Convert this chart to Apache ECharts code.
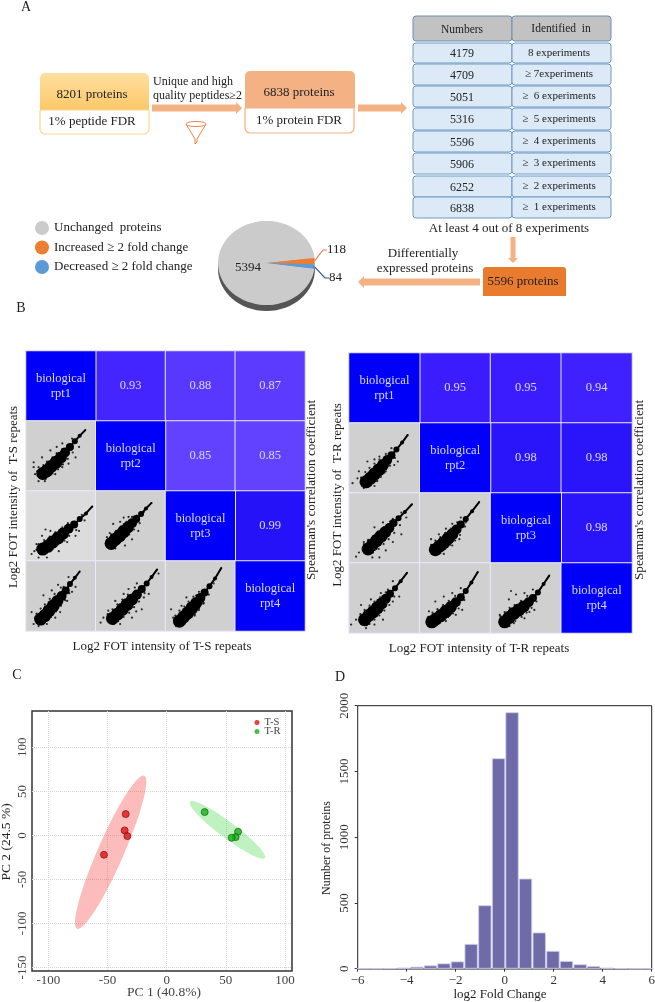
<!DOCTYPE html>
<html>
<head>
<meta charset="utf-8">
<title>Proteomics overview</title>
<script src="https://cdn.jsdelivr.net/npm/echarts@6/dist/echarts.min.js"></script>
<style>
  html, body { margin: 0; padding: 0; background: #fff; }
  #chart { width: 655px; height: 1002px; }
</style>
</head>
<body>
<div id="chart"></div>
<script>
// Panel A
const tableNumbers = ["4179", "4709", "5051", "5316", "5596", "5906", "6252", "6838"];
const tableLabels = ["8 experiments", "≥ 7experiments", "≥  6 experiments", "≥  5 experiments",
  "≥  4 experiments", "≥  3 experiments", "≥  2 experiments", "≥  1 experiments"];
const pieNames = ["Increased ≥ 2 fold change", "Decreased ≥ 2 fold change", "Unchanged  proteins"];
const pieValues = [118, 84, 5394];

// Panel B: upper triangle, row by row
const tsCorr = [0.93, 0.88, 0.87, 0.85, 0.85, 0.99];
const trCorr = [0.95, 0.95, 0.94, 0.98, 0.98, 0.98];
const repeatNames = ["biological\nrpt1", "biological\nrpt2", "biological\nrpt3", "biological\nrpt4"];

// scatter clouds, in percent of the panel, dense spine low-left to tip plus loose points
const ts10Core = [[24,25],[30,29],[36,35],[43,41],[50,48],[56,55],[63,63],[70,71],[77,79],[85,87]];
const ts10Spray = [[11,41],[13,24],[18,14],[27,14],[44,63],[52,68],[59,65],[76,63],[71,48],[61,39],[35,58],[23,48],[42,24],[52,34],[11,34],[66,75],
  [18,34],[25,37],[30,42],[38,48],[44,54],[52,60],[32,21],[38,25],[46,31],[53,38],[60,46],[67,55],[20,19],[16,28],[28,17]];
const ts20Core = [[24,17],[31,21],[38,27],[46,33],[53,39],[61,46],[69,52],[77,60],[86,68],[95,78]];
const ts20Spray = [[8,10],[15,24],[23,36],[35,43],[52,48],[66,53],[76,43],[59,27],[47,14],[30,5],[18,5],[71,36],[42,39],[28,45],[12,14],[84,58],
  [18,24],[26,30],[34,35],[42,41],[50,46],[60,54],[30,12],[38,17],[46,24],[55,29],[62,36],[72,44],[15,16],[20,10],[80,66]];
const ts21Core = [[22,25],[28,31],[34,36],[40,42],[46,48],[52,54],[58,60],[65,67],[72,75],[80,83]];
const ts21Spray = [[16,34],[18,22],[28,18],[25,53],[35,56],[47,63],[59,65],[61,43],[52,31],[42,22],[32,43],[69,70],[40,62],[20,40],
  [16,30],[22,38],[29,43],[36,49],[44,56],[52,63],[28,22],[35,27],[41,32],[48,38],[55,45],[63,54],[18,26],[24,18]];
const ts30Core = [[21,17],[27,22],[33,29],[39,36],[45,43],[51,50],[57,58],[63,67],[70,76],[77,85]];
const ts30Spray = [[8,27],[11,10],[18,7],[25,51],[37,58],[54,63],[61,77],[71,63],[59,43],[49,27],[30,10],[42,19],[14,20],[46,66],[66,56],
  [15,25],[21,32],[27,38],[34,46],[41,53],[50,62],[28,14],[36,20],[43,28],[50,36],[56,44],[62,54],[17,12],[13,18]];
const ts31Core = [[24,18],[31,24],[38,31],[45,38],[52,45],[59,52],[66,60],[73,68],[80,77],[88,88]];
const ts31Spray = [[7,12],[11,19],[18,29],[28,12],[35,10],[52,19],[69,48],[76,53],[47,60],[40,53],[59,68],[66,31],[28,43],[90,82],[58,28],
  [17,24],[24,31],[31,38],[38,45],[46,52],[56,62],[32,14],[40,20],[48,26],[55,34],[62,42],[70,54],[18,14],[26,10]];
const ts32Core = [[20,14],[26,20],[32,26],[38,33],[44,40],[50,47],[56,55],[63,64],[71,75],[80,90]];
const ts32Spray = [[8,31],[11,19],[15,7],[30,48],[44,51],[59,53],[54,39],[42,22],[25,10],[23,36],[69,68],[48,30],
  [14,22],[20,29],[27,35],[33,42],[40,49],[48,56],[28,11],[34,18],[42,24],[48,32],[55,40],[62,52],[16,10],[22,8]];

const tr10Core = [[24,16],[30,21],[36,27],[42,33],[48,40],[54,47],[60,54],[67,62],[75,72],[83,83]];
const tr10Spray = [[5,14],[12,21],[14,31],[21,7],[36,10],[26,45],[36,48],[43,52],[55,50],[69,45],[50,29],[40,17],[60,64],[64,40],
  [17,22],[23,30],[29,36],[36,42],[43,48],[52,56],[31,11],[38,17],[45,23],[52,31],[58,39],[65,50],[18,14],[25,9]];
const tr20Core = [[27,20],[33,26],[39,32],[45,38],[51,44],[57,50],[63,57],[70,64],[79,73],[89,84]];
const tr20Spray = [[10,9],[14,15],[21,30],[33,8],[43,8],[36,51],[48,58],[62,63],[74,72],[74,41],[62,30],[52,18],[81,65],
  [21,27],[27,33],[34,38],[41,45],[49,51],[58,59],[34,15],[42,20],[49,27],[56,34],[64,43],[72,54],[22,17],[29,13]];
const tr21Core = [[22,19],[28,24],[34,29],[40,35],[46,41],[52,48],[58,55],[65,63],[74,74],[84,87]];
const tr21Spray = [[16,34],[18,20],[20,13],[27,41],[37,49],[46,56],[58,65],[56,34],[46,25],[34,13],[65,58],
  [16,26],[22,32],[29,37],[36,43],[44,49],[53,58],[29,14],[36,20],[43,26],[50,32],[57,40],[64,52],[18,16],[24,13]];
const tr30Core = [[22,19],[28,25],[34,30],[40,36],[46,42],[52,49],[58,56],[65,64],[73,74],[82,86]];
const tr30Spray = [[3,12],[10,19],[17,40],[24,7],[36,12],[48,19],[62,45],[71,52],[55,62],[45,57],[31,48],[62,74],
  [16,27],[22,33],[29,39],[36,45],[44,51],[52,58],[29,13],[36,19],[43,25],[50,32],[57,40],[64,52],[18,15],[25,11]];
const tr31Core = [[17,16],[23,20],[30,25],[37,31],[44,37],[51,44],[58,51],[65,60],[73,72],[82,87]];
const tr31Spray = [[13,14],[13,31],[22,45],[34,52],[46,57],[58,64],[60,33],[51,26],[37,17],[72,71],
  [12,23],[18,29],[25,34],[33,40],[41,46],[50,53],[24,11],[32,17],[40,23],[47,28],[55,35],[63,47],[14,11],[20,9]];
const tr32Core = [[20,16],[26,22],[33,28],[40,33],[47,38],[54,44],[60,50],[67,58],[75,70],[83,82]];
const tr32Spray = [[14,19],[13,26],[29,60],[36,55],[26,48],[48,57],[60,62],[62,33],[48,21],[33,14],[55,30],
  [14,24],[20,30],[27,36],[34,40],[43,46],[52,53],[27,10],[35,17],[44,23],[51,29],[58,36],[65,45],[16,12],[22,10]];

// Panel C, ellipses as [center, long axis tip, short axis tip] in data units
const tsPoints = [[-34.6, 24.2], [-35.5, 5.7], [-33.2, -0.8], [-53, -22]];
const trPoints = [[32.1, 26.5], [60.3, 4.2], [58.3, -1.9], [54.9, -2.7]];
const tsEllipse = [[-47.3, -19.2], [-18.9, 67.7], [-37.3, -25.2]];
const trEllipse = [[51.4, 6.25], [83.1, -25.8], [47.3, 13.5]];
const pcaTicksX = [-100, -50, 0, 50, 100];
const pcaTicksY = [-150, -100, -50, 0, 50, 100];

// Panel D
const histCenters = [-5.77, -5.22, -4.68, -4.14, -3.59, -3.03, -2.48, -1.93, -1.37, -0.81, -0.25, 0.3, 0.85, 1.41, 1.97, 2.52, 3.08, 3.63, 4.19, 4.75, 5.31, 5.8];
const histCounts = [1, 1, 3, 8, 15, 25, 40, 55, 188, 482, 1600, 1950, 685, 275, 135, 58, 33, 20, 8, 3, 1, 1];

const serif = '"Liberation Serif", "Times New Roman", serif';
const ink = "#222";
const peach = "#f4b183";

const txt = (text, x, y, size, extra) => ({
  type: "text", silent: true,
  style: Object.assign({ text, x, y, fill: ink, font: size + "px " + serif, textAlign: "center", textVerticalAlign: "middle" }, extra)
});
const turned = (text, x, y, size) => ({
  type: "text", silent: true, x, y, rotation: Math.PI / 2,
  style: { text, x: 0, y: 0, fill: ink, font: size + "px " + serif, textAlign: "center", textVerticalAlign: "middle" }
});
const box = (x, y, w, h, r, fill, stroke, lw) => ({
  type: "rect", silent: true, shape: { x, y, width: w, height: h, r },
  style: { fill, stroke: stroke || null, lineWidth: lw || 1 }
});
// block arrows, shaft half width t, head half width 6
const arrowH = (x1, x2, y, t) => {
  const d = x2 > x1 ? 1 : -1;
  const n = x2 - 6 * d;
  return { type: "polygon", silent: true, shape: { points: [[x1, y - t], [n, y - t], [n, y - 6], [x2, y], [n, y + 6], [n, y + t], [x1, y + t]] }, style: { fill: peach } };
};
const arrowV = (x, y1, y2, t) => ({
  type: "polygon", silent: true,
  shape: { points: [[x - t, y1], [x + t, y1], [x + t, y2 - 5], [x + 5, y2 - 5], [x, y2], [x - 5, y2 - 5], [x - t, y2 - 5]] },
  style: { fill: peach }
});

const rowTops = [43, 64, 86, 108, 131, 153, 176, 197];
const rowHeights = [20, 21, 21, 22, 21, 21, 21, 21];

const graphics = [
  txt("A", 26, 7, 14), txt("B", 21, 308, 14), txt("C", 17, 675, 14), txt("D", 340, 677, 14),

  // filtering flow
  box(40, 73, 109, 37, [5, 5, 0, 0], new echarts.graphic.LinearGradient(0, 0, 0, 1, [
    { offset: 0, color: "#ffe0a0" }, { offset: 1, color: "#fcc868" }])),
  box(40, 110, 109, 24, [0, 0, 5, 5], "#fff", "#fbd68f", 1.2),
  txt("8201 proteins", 92, 95, 13), txt("1% peptide FDR", 92, 122, 13),
  txt("Unique and high", 153, 82, 12, { textAlign: "left" }),
  txt("quality peptides≥2", 153, 96, 12, { textAlign: "left" }),
  arrowH(152, 242, 108, 3.5),
  { type: "ellipse", silent: true, shape: { cx: 196, cy: 124, rx: 10, ry: 2.5 }, style: { fill: "none", stroke: "#e8844a", lineWidth: 1 } },
  { type: "polyline", silent: true, shape: { points: [[186, 124], [195, 139], [195, 144], [197, 142], [197, 139], [206, 124]] }, style: { fill: "none", stroke: "#e8844a", lineWidth: 1 } },
  box(245, 71, 110, 37, [5, 5, 0, 0], peach),
  box(245, 108, 109, 25, [0, 0, 5, 5], "#fff", peach, 1.2),
  txt("6838 proteins", 299, 93, 13), txt("1% protein FDR", 299, 121, 13),
  arrowH(358, 407, 108, 3.5),

  // experiments table
  box(413, 16, 99, 25, 3, "#c2c2c2", "#6f8fb0"),
  box(512, 16, 99, 25, 3, "#c2c2c2", "#6f8fb0"),
  txt("Numbers", 462, 30, 11.5), txt("Identified  in", 561, 29, 11.5),

  // lower flow
  txt("At least 4 out of 8 experiments", 509, 229, 13),
  arrowV(513, 237, 263, 2.5),
  box(483, 267, 83, 29, [3, 3, 0, 0], "#e97b2e"),
  txt("5596 proteins", 523, 282, 13),
  txt("Differentially", 423, 254, 13), txt("expressed proteins", 425, 269, 13),
  arrowH(480, 358, 282, 3.5),

  // pie body
  { type: "ellipse", silent: true, shape: { cx: 266.5, cy: 269, rx: 48.5, ry: 42 }, style: { fill: "#555" } },
  { type: "ellipse", silent: true, shape: { cx: 266.5, cy: 263, rx: 48.5, ry: 42 }, style: { fill: "#cbcbcb" } },

  // panel B titles
  turned("Log2 FOT intensity of  T-S repeats", 14, 497, 13),
  turned("Log2 FOT intensity of  T-R repeats", 338, 495, 13),
  txt("Log2 FOT intensity of T-S repeats", 162, 647, 13),
  txt("Log2 FOT intensity of T-R repeats", 479, 649, 13),
  turned("Spearman's correlation coefficient", 312, 490, 13.2),
  turned("Spearman's correlation coefficient", 640, 490, 13.2),

  // panel D titles
  txt("log2 Fold Change", 500, 995, 13),
  turned("Number of proteins", 327, 848, 12),

  // panel C titles
  txt("PC 1 (40.8%)", 164, 992, 13.5, { fill: "#444" }),
  turned("PC 2 (24.5 %)", 6, 842, 13.5)
];
tableNumbers.forEach((n, i) => {
  graphics.push(box(413, rowTops[i], 99, rowHeights[i], 3, "#dce9f6", "#6f9ac4"));
  graphics.push(box(512, rowTops[i], 99, rowHeights[i], 3, "#dce9f6", "#6f9ac4"));
  graphics.push(txt(n, 462, rowTops[i] + rowHeights[i] / 2 + 1, 12));
  graphics.push(txt(tableLabels[i], 559, rowTops[i] + rowHeights[i] / 2, 11));
});

const grids = [];
const xAxes = [];
const yAxes = [];
const series = [];

// correlation matrix: heatmap cells plus one small grid per scatter panel
function addMatrix(corr, panels, left, top, width, height) {
  const g = grids.length;
  grids.push({ left, top, width, height, outerBoundsMode: "none" });
  xAxes.push({
    type: "category", gridIndex: g, data: ["1", "2", "3", "4"], position: "bottom",
    axisLine: { show: false }, axisTick: { show: false }, axisLabel: { show: false }, splitLine: { show: false }, splitArea: { show: false }
  });
  yAxes.push({
    type: "category", gridIndex: g, data: ["1", "2", "3", "4"], inverse: true,
    axisLine: { show: false }, axisTick: { show: false }, axisLabel: { show: false }, splitLine: { show: false }, splitArea: { show: false }
  });
  const upper = [];
  const other = [];
  let k = 0;
  for (let r = 0; r < 4; r++) {
    for (let c = 0; c < 4; c++) {
      if (c > r) upper.push([c, r, corr[k++]]);
      else if (c === r) other.push({ value: [c, r, 1], name: repeatNames[r], itemStyle: { color: "#0000fa" } });
      else other.push({ value: [c, r, 0], name: "", itemStyle: { color: c === 0 && r === 2 && corr === tsCorr ? "#dcdcdc" : "#d0d0d0" } });
    }
  }
  const cellLabel = { show: true, color: "#d9d9ff", fontFamily: serif, fontSize: 12.5, lineHeight: 15 };
  const cellBorder = { borderColor: "#ece8ff", borderWidth: 1 };
  series.push({
    id: "corr" + g, type: "heatmap", xAxisIndex: g, yAxisIndex: g, data: upper, silent: true, progressive: 0,
    itemStyle: cellBorder, label: Object.assign({ formatter: (p) => p.value[2].toFixed(2) }, cellLabel)
  });
  series.push({
    type: "heatmap", xAxisIndex: g, yAxisIndex: g, data: other, silent: true, progressive: 0,
    itemStyle: cellBorder, label: Object.assign({ formatter: (p) => p.name }, cellLabel)
  });
  panels.forEach(([r, c, core, spray]) => {
    const i = grids.length;
    grids.push({ left: left + c * width / 4, top: top + r * height / 4, width: width / 4, height: height / 4, outerBoundsMode: "none" });
    xAxes.push({ type: "value", gridIndex: i, min: 0, max: 100, show: false });
    yAxes.push({ type: "value", gridIndex: i, min: 0, max: 100, show: false });
    series.push({
      type: "line", xAxisIndex: i, yAxisIndex: i, data: core, silent: true, z: 3,
      showSymbol: true, showAllSymbol: true, symbol: "circle",
      // thick body, thin towards the tip
      symbolSize: (v, p) => Math.min(13, 2 + 18 * (1 - p.dataIndex / (core.length - 1))),
      lineStyle: { color: "#000", width: 2 }, itemStyle: { color: "#000" }
    });
    series.push({
      type: "scatter", xAxisIndex: i, yAxisIndex: i, data: spray, silent: true, z: 3,
      symbolSize: 2.2, itemStyle: { color: "#000" }
    });
  });
}

addMatrix(tsCorr, [[1, 0, ts10Core, ts10Spray], [2, 0, ts20Core, ts20Spray], [2, 1, ts21Core, ts21Spray],
  [3, 0, ts30Core, ts30Spray], [3, 1, ts31Core, ts31Spray], [3, 2, ts32Core, ts32Spray]],
  26, 351, 279, 280);
addMatrix(trCorr, [[1, 0, tr10Core, tr10Spray], [2, 0, tr20Core, tr20Spray], [2, 1, tr21Core, tr21Spray],
  [3, 0, tr30Core, tr30Spray], [3, 1, tr31Core, tr31Spray], [3, 2, tr32Core, tr32Spray]],
  349, 353, 283, 280);

// pie: the gray slice sits on an ellipse, coloured slices reach its long side
series.push({
  type: "pie", center: [266.5, 263], radius: 42, startAngle: 6, silent: true, animation: false,
  data: pieNames.map((name, i) => ({ name, value: pieValues[i] })),
  color: ["#ed7d31", "#5b9bd5", "#cbcbcb"], label: { show: false }, labelLine: { show: false }, z: 3
});
const pieLabelSpots = [[327, 250], [329, 278], [235, 268]];
series.push({
  type: "pie", center: [266.5, 263], radius: 48, startAngle: 6, silent: true, animation: false, z: 4,
  data: [
    { name: pieNames[0], value: pieValues[0], itemStyle: { color: "#ed7d31" }, labelLine: { show: true, lineStyle: { color: "#ed7d50", width: 1.2 } } },
    { name: pieNames[1], value: pieValues[1], itemStyle: { color: "#5b9bd5" }, labelLine: { show: true, lineStyle: { color: "#2f4f9f", width: 1.2 } } },
    { name: pieNames[2], value: pieValues[2], itemStyle: { color: "rgba(0,0,0,0)" }, labelLine: { show: false } }
  ],
  label: { show: true, formatter: "{c}", color: ink, fontFamily: serif, fontSize: 13 },
  labelLine: { length: 6, length2: 4 },
  labelLayout: (p) => ({ x: pieLabelSpots[p.dataIndex][0], y: pieLabelSpots[p.dataIndex][1], align: "left", verticalAlign: "middle" })
});

// PCA
const pcaGrid = grids.length;
grids.push({ left: 32, top: 711, width: 260, height: 260, show: true, borderColor: "#333", borderWidth: 1.5, outerBoundsMode: "none" });
const pcaText = { fontFamily: serif, fontSize: 13, color: "#444" };
const dotted = { show: true, lineStyle: { type: "dotted", color: "#d4d4d4", width: 1 } };
xAxes.push({
  type: "value", gridIndex: pcaGrid, min: -113.8, max: 105.9,
  axisLine: { show: false, onZero: false }, axisTick: { show: false, customValues: pcaTicksX },
  axisLabel: Object.assign({ customValues: pcaTicksX, margin: 3 }, pcaText), splitLine: dotted
});
yAxes.push({
  type: "value", gridIndex: pcaGrid, min: -154, max: 141.3,
  axisLine: { show: false, onZero: false }, axisTick: { show: false, customValues: pcaTicksY },
  axisLabel: Object.assign({ customValues: pcaTicksY, rotate: 90, margin: 3 }, pcaText), splitLine: dotted
});
const ellipseSeries = (axes, fill) => ({
  type: "custom", xAxisIndex: pcaGrid, yAxisIndex: pcaGrid, silent: true, data: [[0, 0]], clip: true, z: 2,
  renderItem: (params, api) => {
    const [c, a, b] = axes.map((p) => api.coord(p));
    return {
      type: "ellipse", x: c[0], y: c[1], rotation: -Math.atan2(a[1] - c[1], a[0] - c[0]),
      shape: { cx: 0, cy: 0, rx: Math.hypot(a[0] - c[0], a[1] - c[1]), ry: Math.hypot(b[0] - c[0], b[1] - c[1]) },
      style: { fill }
    };
  }
});
series.push(ellipseSeries(tsEllipse, "rgba(250,70,70,0.36)"));
series.push(ellipseSeries(trEllipse, "rgba(60,210,60,0.32)"));
series.push({
  name: "T-S", type: "scatter", xAxisIndex: pcaGrid, yAxisIndex: pcaGrid, data: tsPoints, symbolSize: 7, z: 3, silent: true,
  itemStyle: { color: "#e01212", borderColor: "#6a0a0a", borderWidth: 0.8 }
});
series.push({
  name: "T-R", type: "scatter", xAxisIndex: pcaGrid, yAxisIndex: pcaGrid, data: trPoints, symbolSize: 7, z: 3, silent: true,
  itemStyle: { color: "#16b016", borderColor: "#0a5a0a", borderWidth: 0.8 }
});

// histogram
const histGrid = grids.length;
grids.push({ left: 357.7, top: 705.7, width: 294, height: 263, show: true, borderColor: "#222", borderWidth: 1, outerBoundsMode: "none" });
const histText = { fontFamily: serif, fontSize: 13, color: "#333" };
xAxes.push({
  type: "value", gridIndex: histGrid, min: -6, max: 6, interval: 2,
  axisLine: { show: true, onZero: false, lineStyle: { color: "#8a8a8a", width: 2 } }, axisTick: { show: true, lineStyle: { color: "#333" }, length: 3 },
  axisLabel: Object.assign({ margin: 5, formatter: (v) => String(v).replace("-", "\u2212") }, histText), splitLine: { show: false }
});
yAxes.push({
  type: "value", gridIndex: histGrid, min: 0, max: 2000, interval: 500,
  axisLine: { show: false, onZero: false }, axisTick: { show: true, lineStyle: { color: "#333" }, length: 3 },
  axisLabel: Object.assign({ rotate: 90, margin: 7, formatter: (v) => String(v) }, histText), splitLine: { show: false }
});
series.push({
  type: "bar", xAxisIndex: histGrid, yAxisIndex: histGrid, silent: true, barWidth: 13.2,
  data: histCenters.map((x, i) => [x, histCounts[i]]),
  itemStyle: { color: "#6f6ba8", borderColor: "#cfcdea", borderWidth: 0.8 }
});

const chart = echarts.init(document.getElementById("chart"), null, { renderer: "canvas" });
chart.setOption({
  animation: false,
  backgroundColor: "#fff",
  textStyle: { fontFamily: serif },
  tooltip: { show: false },
  legend: [
    {
      left: 35, top: 221, padding: 0, orient: "vertical", icon: "circle", itemWidth: 14, itemHeight: 14, itemGap: 5.5, itemStyle: { borderWidth: 0 },
      data: [
        { name: pieNames[2], itemStyle: { color: "#cbcbcb" } },
        { name: pieNames[0] },
        { name: pieNames[1] }
      ],
      selectedMode: false, textStyle: { fontFamily: serif, fontSize: 13, color: ink }
    },
    {
      left: 254.5, top: 717, padding: 0, orient: "vertical", icon: "circle", itemWidth: 5, itemHeight: 5, itemGap: -2, itemStyle: { borderWidth: 0 },
      data: ["T-S", "T-R"], selectedMode: false, textStyle: { fontFamily: serif, fontSize: 10.5, color: "#444", lineHeight: 9 }
    }
  ],
  visualMap: {
    show: false, type: "continuous", min: 0.85, max: 1, seriesId: ["corr0", "corr7"],
    inRange: { color: ["#6242ff", "#5230ff", "#3a1cff", "#2010f8"] }
  },
  grid: grids,
  xAxis: xAxes,
  yAxis: yAxes,
  series,
  graphic: { elements: graphics }
});
window.addEventListener("resize", () => chart.resize());
</script>
</body>
</html>
